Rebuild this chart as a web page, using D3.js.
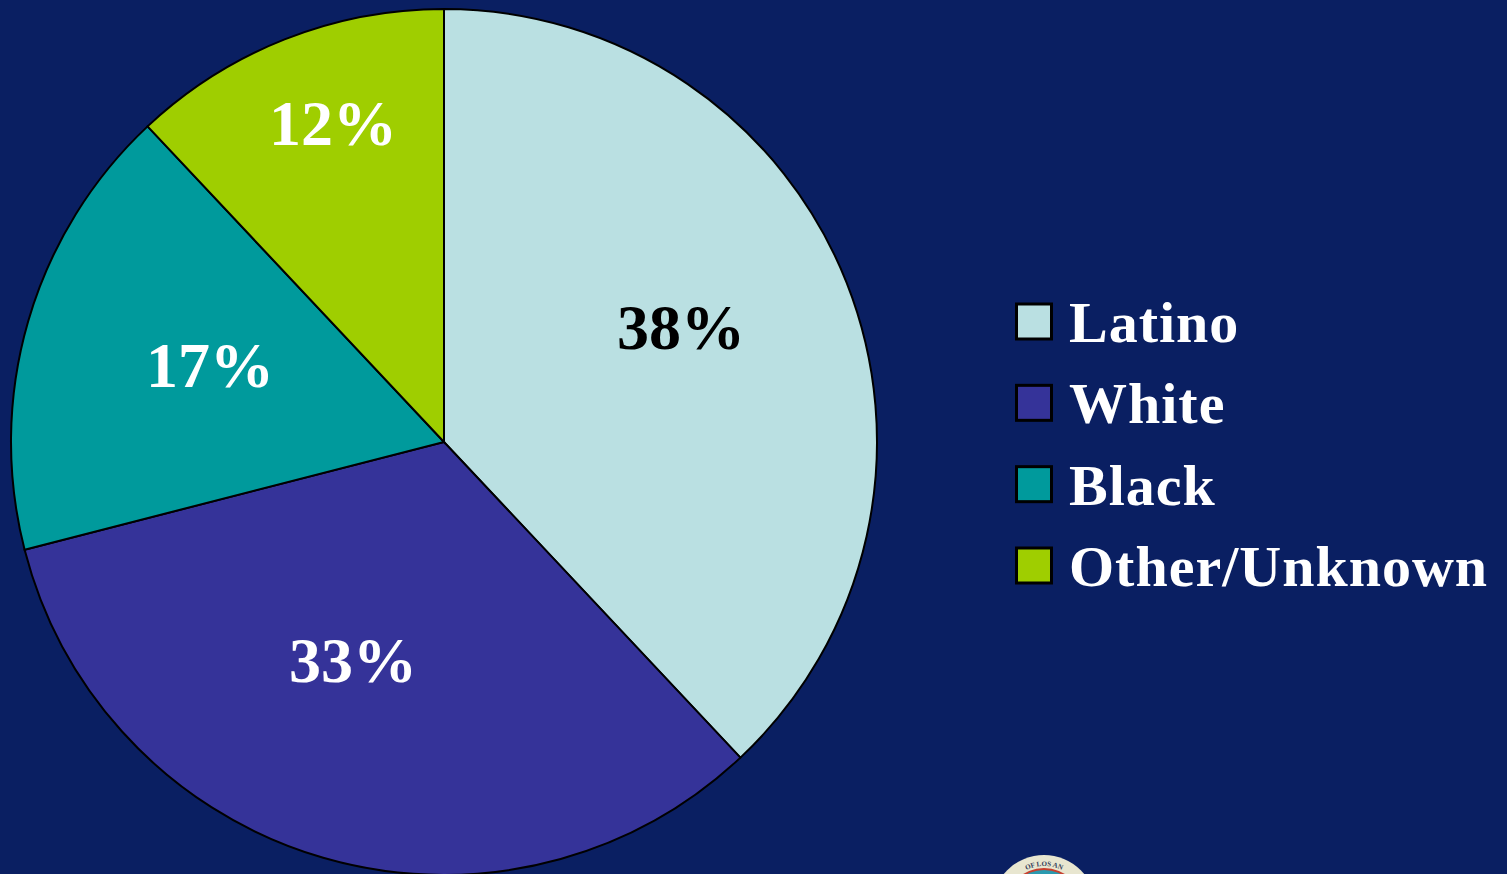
<!DOCTYPE html>
<html>
<head>
<meta charset="utf-8">
<script src="https://cdn.jsdelivr.net/npm/d3@7"></script>
<style>
html,body{margin:0;padding:0;background:#0a1f62;overflow:hidden}
svg{display:block}
text{font-family:"Liberation Serif",serif;font-weight:bold}
</style>
</head>
<body>
<svg id="chart" width="1507" height="874"></svg>
<script>
const categories = ["Latino", "White", "Black", "Other/Unknown"];
const shares = [38, 33, 17, 12];
const sliceColors = ["#bae0e2", "#353399", "#009a9c", "#9fce00"];
const labelColors = ["#000000", "#ffffff", "#ffffff", "#ffffff"];

const svg = d3.select("#chart");
const cx = 444, cy = 442, radius = 433;

// Pie
const pie = d3.pie().sort(null).value(d => d)(shares);
const arc = d3.arc().innerRadius(0).outerRadius(radius);
const labelOffsets = [[237, -115], [-91, 218], [-234, -77], [-111, -319]];
const g = svg.append("g").attr("transform", `translate(${cx},${cy})`);
g.selectAll("path").data(pie).join("path")
  .attr("d", arc)
  .attr("fill", (d, i) => sliceColors[i])
  .attr("stroke", "#000")
  .attr("stroke-width", 2);
g.selectAll("text").data(pie).join("text")
  .attr("x", (d, i) => labelOffsets[i][0])
  .attr("y", (d, i) => labelOffsets[i][1])
  .attr("text-anchor", "middle")
  .attr("dominant-baseline", "central")
  .attr("font-size", 64)
  .attr("fill", (d, i) => labelColors[i])
  .text(d => d.value + "%");

// Legend
const legendY = d3.scalePoint().domain(categories).range([322, 566]);
const legend = svg.append("g");
const rows = legend.selectAll("g").data(categories).join("g")
  .attr("transform", d => `translate(0,${legendY(d)})`);
rows.append("rect")
  .attr("x", 1016.5).attr("y", -18).attr("width", 35).attr("height", 35)
  .attr("fill", (d, i) => sliceColors[i])
  .attr("stroke", "#000").attr("stroke-width", 3);
rows.append("text")
  .attr("x", 1069).attr("y", 20)
  .attr("font-size", 58)
  .attr("letter-spacing", 1)
  .attr("fill", "#fff")
  .text(d => d);

// County seal, cut by the lower edge of the page
const defs = svg.append("defs");
defs.append("filter").attr("id", "soft")
  .append("feGaussianBlur").attr("stdDeviation", 0.7);
const seal = svg.append("g").attr("transform", "translate(1044,907)");
const sealDiscs = seal.append("g").attr("filter", "url(#soft)");
sealDiscs.append("circle").attr("r", 52).attr("fill", "#e8e6d0");
sealDiscs.append("circle").attr("r", 39).attr("fill", "#c8402f");
sealDiscs.append("circle").attr("r", 37).attr("fill", "#2a9ab0");
const ringPath = d3.path();
ringPath.arc(0, 0, 41, -Math.PI / 2 - 0.7, -Math.PI / 2 + 0.7);
seal.append("path").attr("id", "sealRing").attr("fill", "none")
  .attr("d", ringPath.toString());
seal.append("text").attr("font-size", 7).attr("fill", "#33405a")
  .append("textPath").attr("href", "#sealRing").attr("startOffset", "50%")
  .attr("text-anchor", "middle").text("OF LOS AN");
</script>
</body>
</html>
